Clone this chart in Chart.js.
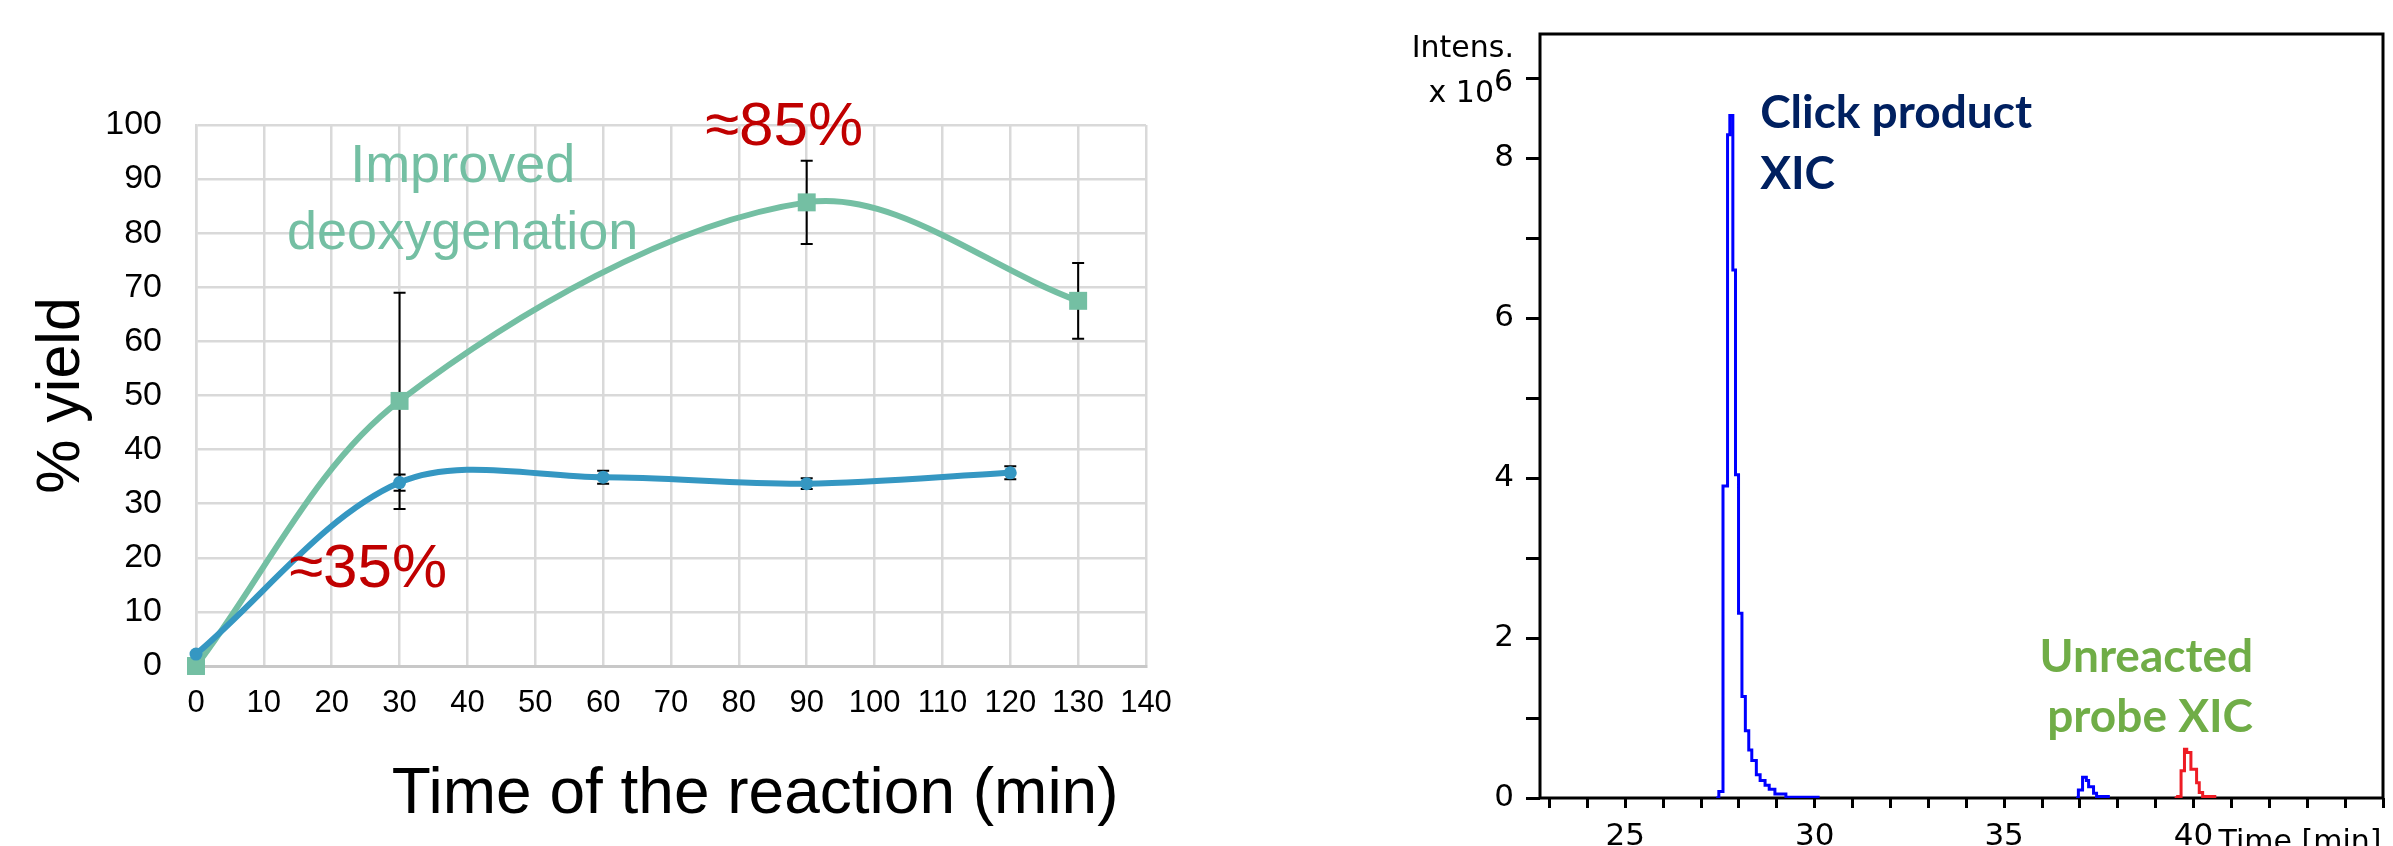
<!DOCTYPE html>
<html>
<head>
<meta charset="utf-8">
<script src="https://cdn.jsdelivr.net/npm/chart.js@4"></script>
<style>
  html, body { margin: 0; padding: 0; background: #fff; }
  body { width: 2393px; height: 846px; position: relative; overflow: hidden; }
  #yieldChart { position: absolute; left: 0; top: 0; }
  #xicChart { position: absolute; left: 1380px; top: 0; }
</style>
</head>
<body>
<canvas id="yieldChart" width="1380" height="846"></canvas>
<canvas id="xicChart" width="1013" height="846"></canvas>
<script>
// Left panel: yield vs reaction time (min), error bars as +/- values
const timeImproved = [0, 30, 90, 130];
const yieldImproved = [0, 49, 85.7, 67.5];
const errImproved = [0, 20, 7.7, 7];

const timeStandard = [0, 30, 60, 90, 120];
const yieldStandard = [2.2, 33.9, 34.9, 33.7, 35.7];
const errStandard = [0, 1.5, 1.2, 1, 1.2];

const yieldXTicks = [0, 10, 20, 30, 40, 50, 60, 70, 80, 90, 100, 110, 120, 130, 140];
const yieldYTicks = [0, 10, 20, 30, 40, 50, 60, 70, 80, 90, 100];

// Right panel: extracted ion chromatograms, intensity in units of 10^6
const clickTime = [27.40, 27.47, 27.58, 27.70, 27.76, 27.84, 27.91, 27.99, 28.08, 28.17, 28.26, 28.34, 28.46, 28.56, 28.69, 28.80, 28.95, 29.24, 30.13];
const clickIntensity = [0, 0.08, 3.9, 8.29, 8.53, 6.6, 4.04, 2.31, 1.27, 0.84, 0.6, 0.47, 0.29, 0.22, 0.16, 0.11, 0.05, 0.01, 0.01];

const clickMinorTime = [36.90, 36.96, 37.07, 37.17, 37.23, 37.36, 37.44, 37.79];
const clickMinorIntensity = [0, 0.1, 0.26, 0.22, 0.14, 0.06, 0.02, 0.02];

const probeTime = [39.50, 39.58, 39.67, 39.76, 39.82, 39.93, 40.08, 40.15, 40.24, 40.60];
const probeIntensity = [0, 0.02, 0.34, 0.61, 0.57, 0.36, 0.19, 0.07, 0.02, 0.02];

const xicTimeTicks = [23, 24, 25, 26, 27, 28, 29, 30, 31, 32, 33, 34, 35, 36, 37, 38, 39, 40, 41, 42, 43, 44, 45];
const xicTimeLabels = [25, 30, 35, 40];
const xicIntensTicks = [0, 1, 2, 3, 4, 5, 6, 7, 8, 9];
const xicIntensLabels = [0, 2, 4, 6, 8];

const sans = '"Liberation Sans", Arial, sans-serif';
const dejavu = '"DejaVu Sans", Verdana, sans-serif';
const teal = '#74bfa3';
const blue = '#3597c2';
const red = '#c00000';

function toPoints(xs, ys) {
    return xs.map((x, i) => ({ x: x, y: ys[i] }));
}

function fixedTicks(values) {
    return function(scale) {
        scale.ticks = values.map(v => ({ value: v }));
    };
}

const yieldDecor = {
    id: 'yieldDecor',
    beforeDatasetsDraw(chart) {
        const { ctx, scales: { x, y } } = chart;
        ctx.save();
        ctx.strokeStyle = '#000';
        ctx.lineWidth = 2;
        const sets = [[timeImproved, yieldImproved, errImproved], [timeStandard, yieldStandard, errStandard]];
        sets.forEach(([ts, vs, es]) => {
            ts.forEach((t, i) => {
                if (!es[i]) return;
                const px = x.getPixelForValue(t);
                const top = y.getPixelForValue(vs[i] + es[i]);
                const bot = y.getPixelForValue(vs[i] - es[i]);
                ctx.beginPath();
                ctx.moveTo(px, top); ctx.lineTo(px, bot);
                ctx.moveTo(px - 6, top); ctx.lineTo(px + 6, top);
                ctx.moveTo(px - 6, bot); ctx.lineTo(px + 6, bot);
                ctx.stroke();
            });
        });
        ctx.restore();
    },
    afterDraw(chart) {
        const { ctx, chartArea: area, scales: { x, y } } = chart;
        ctx.save();
        // in-plot labels
        ctx.fillStyle = teal;
        ctx.font = '54px ' + sans;
        ctx.textAlign = 'center';
        ctx.textBaseline = 'alphabetic';
        ctx.fillText('Improved', x.getPixelForValue(39.3), y.getPixelForValue(89.4));
        ctx.fillText('deoxygenation', x.getPixelForValue(39.3), y.getPixelForValue(77));

        ctx.fillStyle = red;
        ctx.textAlign = 'left';
        ctx.font = '62px ' + sans;
        ctx.fillText('≈85%', x.getPixelForValue(75), y.getPixelForValue(96.3));
        ctx.fillText('≈35%', x.getPixelForValue(13.7), y.getPixelForValue(14.6));

        // axis titles
        ctx.fillStyle = '#000';
        ctx.font = '64px ' + sans;
        ctx.textAlign = 'center';
        ctx.fillText('Time of the reaction (min)', x.getPixelForValue(82.4), area.bottom + 147);

        ctx.translate(area.left - 117, (area.top + area.bottom) / 2);
        ctx.rotate(-Math.PI / 2);
        ctx.font = '61px ' + sans;
        ctx.fillText('% yield', 0, 0);
        ctx.restore();
    }
};

new Chart(document.getElementById('yieldChart'), {
    type: 'line',
    data: {
        datasets: [
            {
                label: 'Standard',
                data: toPoints(timeStandard, yieldStandard),
                borderColor: blue,
                backgroundColor: blue,
                borderWidth: 6,
                pointStyle: 'circle',
                pointRadius: 6.5,
                pointBorderWidth: 0,
                tension: 0.33,
                clip: false
            },
            {
                label: 'Improved deoxygenation',
                data: toPoints(timeImproved, yieldImproved),
                borderColor: teal,
                backgroundColor: teal,
                borderWidth: 6,
                pointStyle: 'rect',
                pointRadius: 12.7,
                pointBorderWidth: 0,
                tension: 0.33,
                clip: false
            }
        ]
    },
    options: {
        responsive: false,
        animation: false,
        devicePixelRatio: 1,
        layout: { padding: { top: 125, right: 234, left: 0, bottom: 0 } },
        plugins: { legend: { display: false }, tooltip: { enabled: false } },
        scales: {
            x: {
                type: 'linear',
                min: 0,
                max: 140,
                afterBuildTicks: fixedTicks(yieldXTicks),
                afterFit(scale) { scale.height = 180; },
                grid: { color: '#d9d9d9', lineWidth: 2.5, drawTicks: false },
                border: { color: '#c8c8c8', width: 3 },
                ticks: { color: '#000', padding: 19, font: { family: sans, size: 31 } }
            },
            y: {
                min: 0,
                max: 100,
                afterBuildTicks: fixedTicks(yieldYTicks),
                afterFit(scale) { scale.width = 196; },
                grid: { color: '#d9d9d9', lineWidth: 2.5, drawTicks: false },
                border: { color: '#d9d9d9', width: 2.5 },
                ticks: { color: '#000', padding: 34, font: { family: sans, size: 34 } }
            }
        }
    },
    plugins: [yieldDecor]
});

const xicDecor = {
    id: 'xicDecor',
    beforeDatasetsDraw(chart) {
        const { ctx, chartArea: a } = chart;
        ctx.save();
        ctx.strokeStyle = '#000';
        ctx.lineWidth = 3;
        ctx.strokeRect(a.left, a.top, a.right - a.left, a.bottom - a.top);
        ctx.restore();
    },
    afterDraw(chart) {
        const { ctx, chartArea: a, scales: { x, y } } = chart;
        ctx.save();
        ctx.fillStyle = '#000';
        ctx.font = '30px ' + dejavu;
        ctx.textAlign = 'right';
        ctx.textBaseline = 'alphabetic';
        ctx.fillText('Intens.', a.left - 26, 57);
        ctx.fillText('x 10', a.left - 46, 102);
        ctx.textAlign = 'left';
        ctx.fillText('6', a.left - 46, 91);
        ctx.fillText('Time [min]', x.getPixelForValue(40) + 25, 851);

        ctx.font = 'bold 46px Lato, "Open Sans", sans-serif';
        ctx.fillStyle = '#002060';
        ctx.fillText('Click product', x.getPixelForValue(28.56), y.getPixelForValue(8.375));
        ctx.fillText('XIC', x.getPixelForValue(28.56), y.getPixelForValue(7.61));

        ctx.font = 'bold 46px Lato, "Open Sans", sans-serif';
        ctx.fillStyle = '#70ad47';
        ctx.textAlign = 'right';
        ctx.fillText('Unreacted', x.getPixelForValue(41.57), y.getPixelForValue(1.575));
        ctx.fillText('probe XIC', x.getPixelForValue(41.57), y.getPixelForValue(0.825));
        ctx.restore();
    }
};

new Chart(document.getElementById('xicChart'), {
    type: 'line',
    data: {
        datasets: [
            {
                label: 'Click product XIC',
                data: toPoints(clickTime, clickIntensity),
                borderColor: '#0000ff',
                borderWidth: 3,
                stepped: true,
                pointRadius: 0
            },
            {
                label: 'Click product XIC (minor)',
                data: toPoints(clickMinorTime, clickMinorIntensity),
                borderColor: '#0000ff',
                borderWidth: 3,
                stepped: true,
                pointRadius: 0
            },
            {
                label: 'Unreacted probe XIC',
                data: toPoints(probeTime, probeIntensity),
                borderColor: '#ee1c24',
                borderWidth: 3,
                stepped: true,
                pointRadius: 0
            }
        ]
    },
    options: {
        responsive: false,
        animation: false,
        devicePixelRatio: 1,
        layout: { padding: { top: 34, right: 5, left: 0, bottom: 0 } },
        plugins: { legend: { display: false }, tooltip: { enabled: false } },
        scales: {
            x: {
                type: 'linear',
                min: 22.75,
                max: 45,
                afterBuildTicks: fixedTicks(xicTimeTicks),
                afterFit(scale) { scale.height = 48; },
                grid: { drawOnChartArea: false, color: '#000', lineWidth: 3, tickLength: 10 },
                border: { display: false },
                ticks: {
                    color: '#000',
                    padding: 10,
                    autoSkip: false,
                    maxRotation: 0,
                    font: { family: dejavu, size: 31 },
                    callback: v => xicTimeLabels.includes(v) ? String(v) : ''
                }
            },
            y: {
                min: 0,
                max: 9.55,
                afterBuildTicks: fixedTicks(xicIntensTicks),
                afterFit(scale) { scale.width = 160; },
                grid: { drawOnChartArea: false, color: '#000', lineWidth: 3, tickLength: 14 },
                border: { display: false },
                ticks: {
                    color: '#000',
                    padding: 12,
                    autoSkip: false,
                    font: { family: dejavu, size: 31 },
                    callback: v => xicIntensLabels.includes(v) ? String(v) : ''
                }
            }
        }
    },
    plugins: [xicDecor]
});
</script>
</body>
</html>
